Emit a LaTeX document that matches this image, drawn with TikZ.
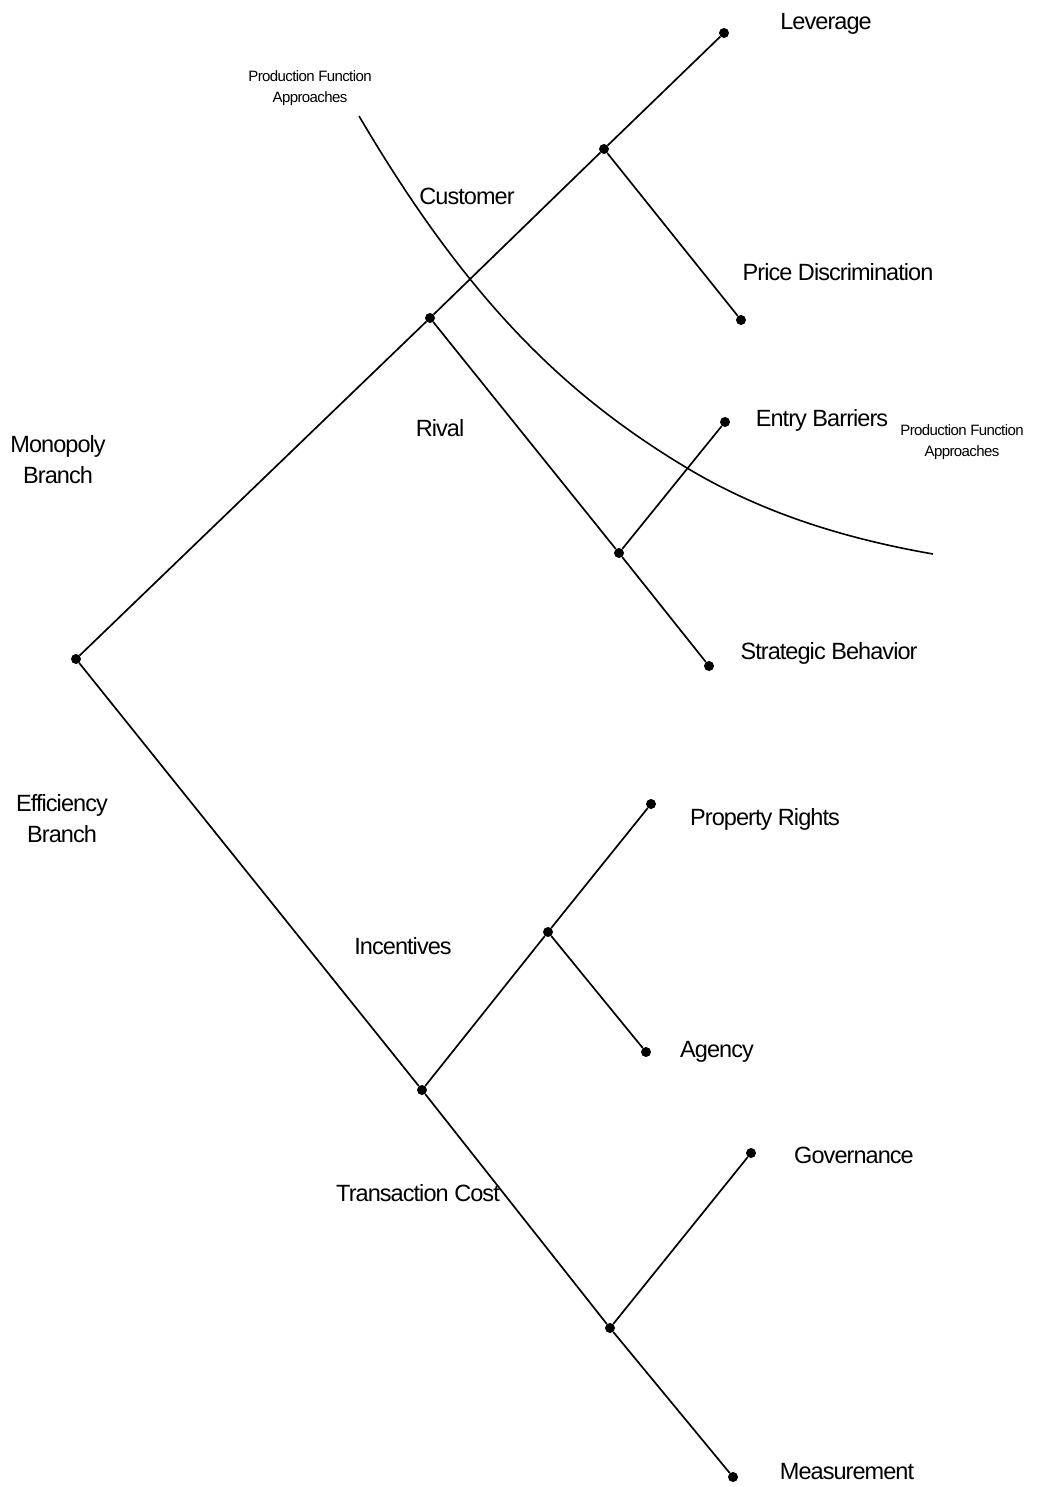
\documentclass[tikz,border=0pt]{standalone}
\usepackage{fontspec}
\setmainfont{Liberation Sans}[LetterSpace=-4]
\begin{document}
\begin{tikzpicture}[x=1pt,y=-1pt,
  dot/.style={circle,fill=black,inner sep=0pt,minimum size=10pt},
  branch/.style={line width=1.7pt},
  lbl/.style={font=\fontsize{23.5}{31}\selectfont,inner sep=0pt,anchor=base},
  twoline/.style={font=\fontsize{23.5}{31}\selectfont,inner sep=0pt,align=center},
  note/.style={font=\fontsize{15}{21}\selectfont,inner sep=0pt,align=center}]
\useasboundingbox[fill=white] (0,0) rectangle (1036,1487);

% branching points and leaves
\node[dot] (root) at (76,659) {};
\node[dot] (mono) at (430,318) {};
\node[dot] (cust) at (604,149) {};
\node[dot] (lev) at (724,33) {};
\node[dot] (price) at (741,320) {};
\node[dot] (rival) at (619,553) {};
\node[dot] (entry) at (725,422) {};
\node[dot] (strat) at (709,666) {};
\node[dot] (eff) at (422,1090) {};
\node[dot] (inc) at (548,932) {};
\node[dot] (prop) at (651,804) {};
\node[dot] (agency) at (646,1052) {};
\node[dot] (trans) at (610,1328) {};
\node[dot] (gov) at (751,1153) {};
\node[dot] (meas) at (733,1477) {};

% tree edges
\draw[branch] (root) -- (mono);
\draw[branch] (mono) -- (cust);
\draw[branch] (cust) -- (lev);
\draw[branch] (cust) -- (price);
\draw[branch] (mono) -- (rival);
\draw[branch] (rival) -- (entry);
\draw[branch] (rival) -- (strat);
\draw[branch] (root) -- (eff);
\draw[branch] (eff) -- (inc);
\draw[branch] (inc) -- (prop);
\draw[branch] (inc) -- (agency);
\draw[branch] (eff) -- (trans);
\draw[branch] (trans) -- (gov);
\draw[branch] (trans) -- (meas);

% production function frontier
\coordinate (pfA) at (359,116);
\coordinate (pfB) at (687,468);
\coordinate (pfC) at (933,554);
\draw[line width=1.6pt] (pfA) .. controls (469,303) and (567,396) .. (pfB)
  .. controls (767,516) and (853,540) .. (pfC);

% leaf labels
\node[lbl] (tLev) at (826,30) {Leverage};
\node[lbl] (tPrice) at (838,281) {Price Discrimination};
\node[lbl] (tEntry) at (822,426) {Entry Barriers};
\node[lbl] (tStrat) at (829,659) {Strategic Behavior};
\node[lbl] (tProp) at (765,825) {Property Rights};
\node[lbl] (tAgency) at (717,1057) {Agency};
\node[lbl] (tGov) at (854,1163) {Governance};
\node[lbl] (tMeas) at (847,1479) {Measurement};

% branch labels
\node[lbl] (tCust) at (467,205) {Customer};
\node[lbl] (tRival) at (440,436) {Rival};
\node[lbl] (tInc) at (403,954) {Incentives};
\node[lbl] (tTrans) at (418,1201) {Transaction Cost};
\node[twoline] (tMono) at (58,460) {Monopoly\\Branch};
\node[twoline] (tEff) at (62,819) {Efficiency\\Branch};

% frontier labels
\node[note] (tPF1) at (310,88) {Production Function\\Approaches};
\node[note] (tPF2) at (962,442) {Production Function\\Approaches};
\end{tikzpicture}
\end{document}
